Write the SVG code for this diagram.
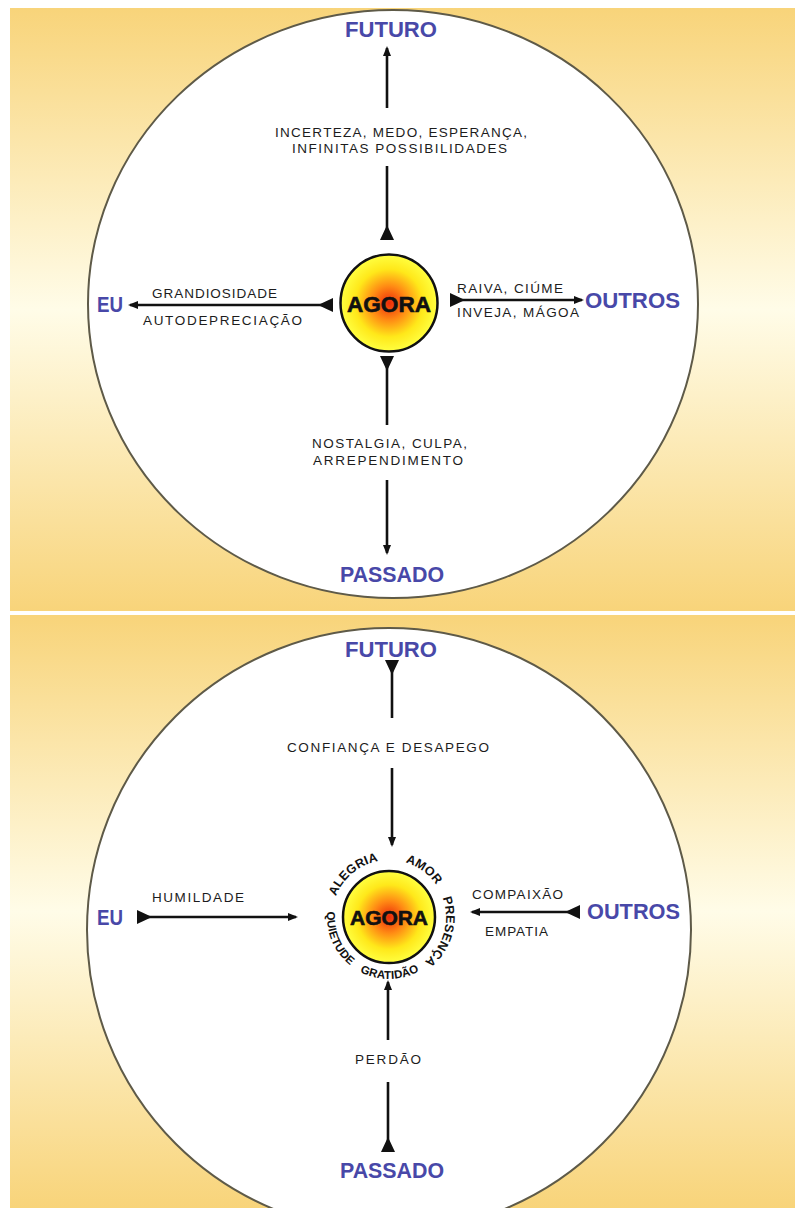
<svg xmlns="http://www.w3.org/2000/svg" width="795" height="1208" viewBox="0 0 795 1208">
<style>
.lbl{font-family:"Liberation Sans",Arial,sans-serif;font-size:13.5px;fill:#1c1c1c}
.blue{font-family:"Liberation Sans",Arial,sans-serif;font-size:22px;font-weight:bold;fill:#4848a8}
.ag{font-family:"Liberation Sans",Arial,sans-serif;font-weight:900;fill:#111;stroke:#111;stroke-width:0.6}
.arc{font-family:"Liberation Sans",Arial,sans-serif;font-size:12.5px;font-weight:bold;fill:#111;letter-spacing:0.2px}
.arc2{font-family:"Liberation Sans",Arial,sans-serif;font-size:11.5px;font-weight:bold;fill:#111;letter-spacing:0.2px}
.big{fill:#fff;stroke:#5e5a48;stroke-width:2}
.sun{fill:url(#sunG);stroke:#111;stroke-width:2.5}
.ln{stroke:#111;stroke-width:2.6;fill:none}
</style>
<defs>
<linearGradient id="bg" x1="0" y1="0" x2="0" y2="1">
<stop offset="0" stop-color="#f8d47a"/>
<stop offset="0.5" stop-color="#fffce8"/>
<stop offset="1" stop-color="#f8d47a"/>
</linearGradient>
<radialGradient id="sunG" cx="0.5" cy="0.5" r="0.5">
<stop offset="0" stop-color="#ec2a0a"/>
<stop offset="0.35" stop-color="#ff8a14"/>
<stop offset="0.7" stop-color="#ffe81a"/>
<stop offset="1" stop-color="#ffff40"/>
</radialGradient>
<marker id="head" viewBox="0 0 10 8" refX="8" refY="4" markerWidth="10" markerHeight="8" markerUnits="userSpaceOnUse" orient="auto"><path d="M0,0 L10,4 L0,8 z" fill="#111"/></marker>
<marker id="tail" viewBox="0 0 15 14" refX="0" refY="7" markerWidth="15" markerHeight="14" markerUnits="userSpaceOnUse" orient="auto"><path d="M0,0 L15,7 L0,14 z" fill="#111"/></marker>
<path id="cw" d="M389,974 A57,57 0 1,1 389,860 A57,57 0 1,1 389,974"/>
<path id="ccw" d="M389,855 A62,62 0 1,0 389,979 A62,62 0 1,0 389,855"/>
</defs>

<rect x="0" y="0" width="795" height="1208" fill="#fff"/>
<rect x="10" y="8" width="785" height="603" fill="url(#bg)"/>
<rect x="10" y="615" width="785" height="593" fill="url(#bg)"/>

<!-- TOP PANEL -->
<ellipse class="big" cx="393" cy="304" rx="305" ry="294"/>

<g id="connectors-top">
<path class="ln" d="M387,240 L387,166" marker-start="url(#tail)"/>
<path class="ln" d="M387,108 L387,48" marker-end="url(#head)"/>
<path class="ln" d="M387,356 L387,425" marker-start="url(#tail)"/>
<path class="ln" d="M387,480 L387,553" marker-end="url(#head)"/>
<path class="ln" d="M333,305 L130,305" marker-start="url(#tail)" marker-end="url(#head)"/>
<path class="ln" d="M450,300 L582,300" marker-start="url(#tail)" marker-end="url(#head)"/>
</g>

<g id="agora-top">
<circle class="sun" cx="389" cy="303" r="48.5"/>
<text class="ag" x="389" y="312" font-size="22" text-anchor="middle" textLength="84" lengthAdjust="spacingAndGlyphs">AGORA</text>
</g>
<g id="futuro-top"><text class="blue" x="345" y="37" textLength="92" lengthAdjust="spacingAndGlyphs">FUTURO</text></g>
<g id="passado-top"><text class="blue" x="340" y="582" textLength="104" lengthAdjust="spacingAndGlyphs">PASSADO</text></g>
<g id="eu-top"><text class="blue" x="97" y="312" textLength="26" lengthAdjust="spacingAndGlyphs">EU</text></g>
<g id="outros-top"><text class="blue" x="585" y="308" textLength="95" lengthAdjust="spacingAndGlyphs">OUTROS</text></g>

<g id="labels-top">
<text class="lbl" x="275" y="137" textLength="252" lengthAdjust="spacing">INCERTEZA, MEDO, ESPERANÇA,</text>
<text class="lbl" x="292" y="153" textLength="215" lengthAdjust="spacing">INFINITAS POSSIBILIDADES</text>
<text class="lbl" x="152" y="298" textLength="125" lengthAdjust="spacing">GRANDIOSIDADE</text>
<text class="lbl" x="143" y="325" textLength="159" lengthAdjust="spacing">AUTODEPRECIAÇÃO</text>
<text class="lbl" x="457" y="293" textLength="106" lengthAdjust="spacing">RAIVA, CIÚME</text>
<text class="lbl" x="457" y="317" textLength="122" lengthAdjust="spacing">INVEJA, MÁGOA</text>
<text class="lbl" x="312" y="448" textLength="155" lengthAdjust="spacing">NOSTALGIA, CULPA,</text>
<text class="lbl" x="313" y="465" textLength="150" lengthAdjust="spacing">ARREPENDIMENTO</text>
</g>

<!-- BOTTOM PANEL -->
<ellipse class="big" cx="389" cy="930" rx="302" ry="302"/>

<g id="connectors-bottom">
<path class="ln" d="M392,660 L392,718" marker-start="url(#tail)"/>
<path class="ln" d="M392,768 L392,845" marker-end="url(#head)"/>
<path class="ln" d="M388,1152 L388,1082" marker-start="url(#tail)"/>
<path class="ln" d="M388,1040 L388,982" marker-end="url(#head)"/>
<path class="ln" d="M137,917 L296,917" marker-start="url(#tail)" marker-end="url(#head)"/>
<path class="ln" d="M580,912 L472,912" marker-start="url(#tail)" marker-end="url(#head)"/>
</g>

<g id="agora-bottom">
<circle class="sun" cx="389" cy="917" r="46"/>
<text class="ag" x="389" y="925" font-size="20" text-anchor="middle" textLength="78" lengthAdjust="spacingAndGlyphs">AGORA</text>
<text class="arc"><textPath href="#cw" startOffset="139.3" text-anchor="middle">ALEGRIA</textPath></text>
<text class="arc"><textPath href="#cw" startOffset="214.9" text-anchor="middle">AMOR</textPath></text>
<text class="arc"><textPath href="#cw" startOffset="284" text-anchor="middle">PRESENÇA</textPath></text>
<text class="arc2"><textPath href="#ccw" startOffset="122.3" text-anchor="middle">QUIETUDE</textPath></text>
<text class="arc2"><textPath href="#ccw" startOffset="195.3" text-anchor="middle">GRATIDÃO</textPath></text>
</g>
<g id="futuro-bottom"><text class="blue" x="345" y="657" textLength="92" lengthAdjust="spacingAndGlyphs">FUTURO</text></g>
<g id="passado-bottom"><text class="blue" x="340" y="1178" textLength="104" lengthAdjust="spacingAndGlyphs">PASSADO</text></g>
<g id="eu-bottom"><text class="blue" x="97" y="925" textLength="26" lengthAdjust="spacingAndGlyphs">EU</text></g>
<g id="outros-bottom"><text class="blue" x="587" y="919" textLength="93" lengthAdjust="spacingAndGlyphs">OUTROS</text></g>

<g id="labels-bottom">
<text class="lbl" x="287" y="752" textLength="202" lengthAdjust="spacing">CONFIANÇA E DESAPEGO</text>
<text class="lbl" x="152" y="902" textLength="92" lengthAdjust="spacing">HUMILDADE</text>
<text class="lbl" x="472" y="899" textLength="91" lengthAdjust="spacing">COMPAIXÃO</text>
<text class="lbl" x="485" y="936" textLength="63" lengthAdjust="spacing">EMPATIA</text>
<text class="lbl" x="355" y="1064" textLength="66" lengthAdjust="spacing">PERDÃO</text>
</g>
</svg>
